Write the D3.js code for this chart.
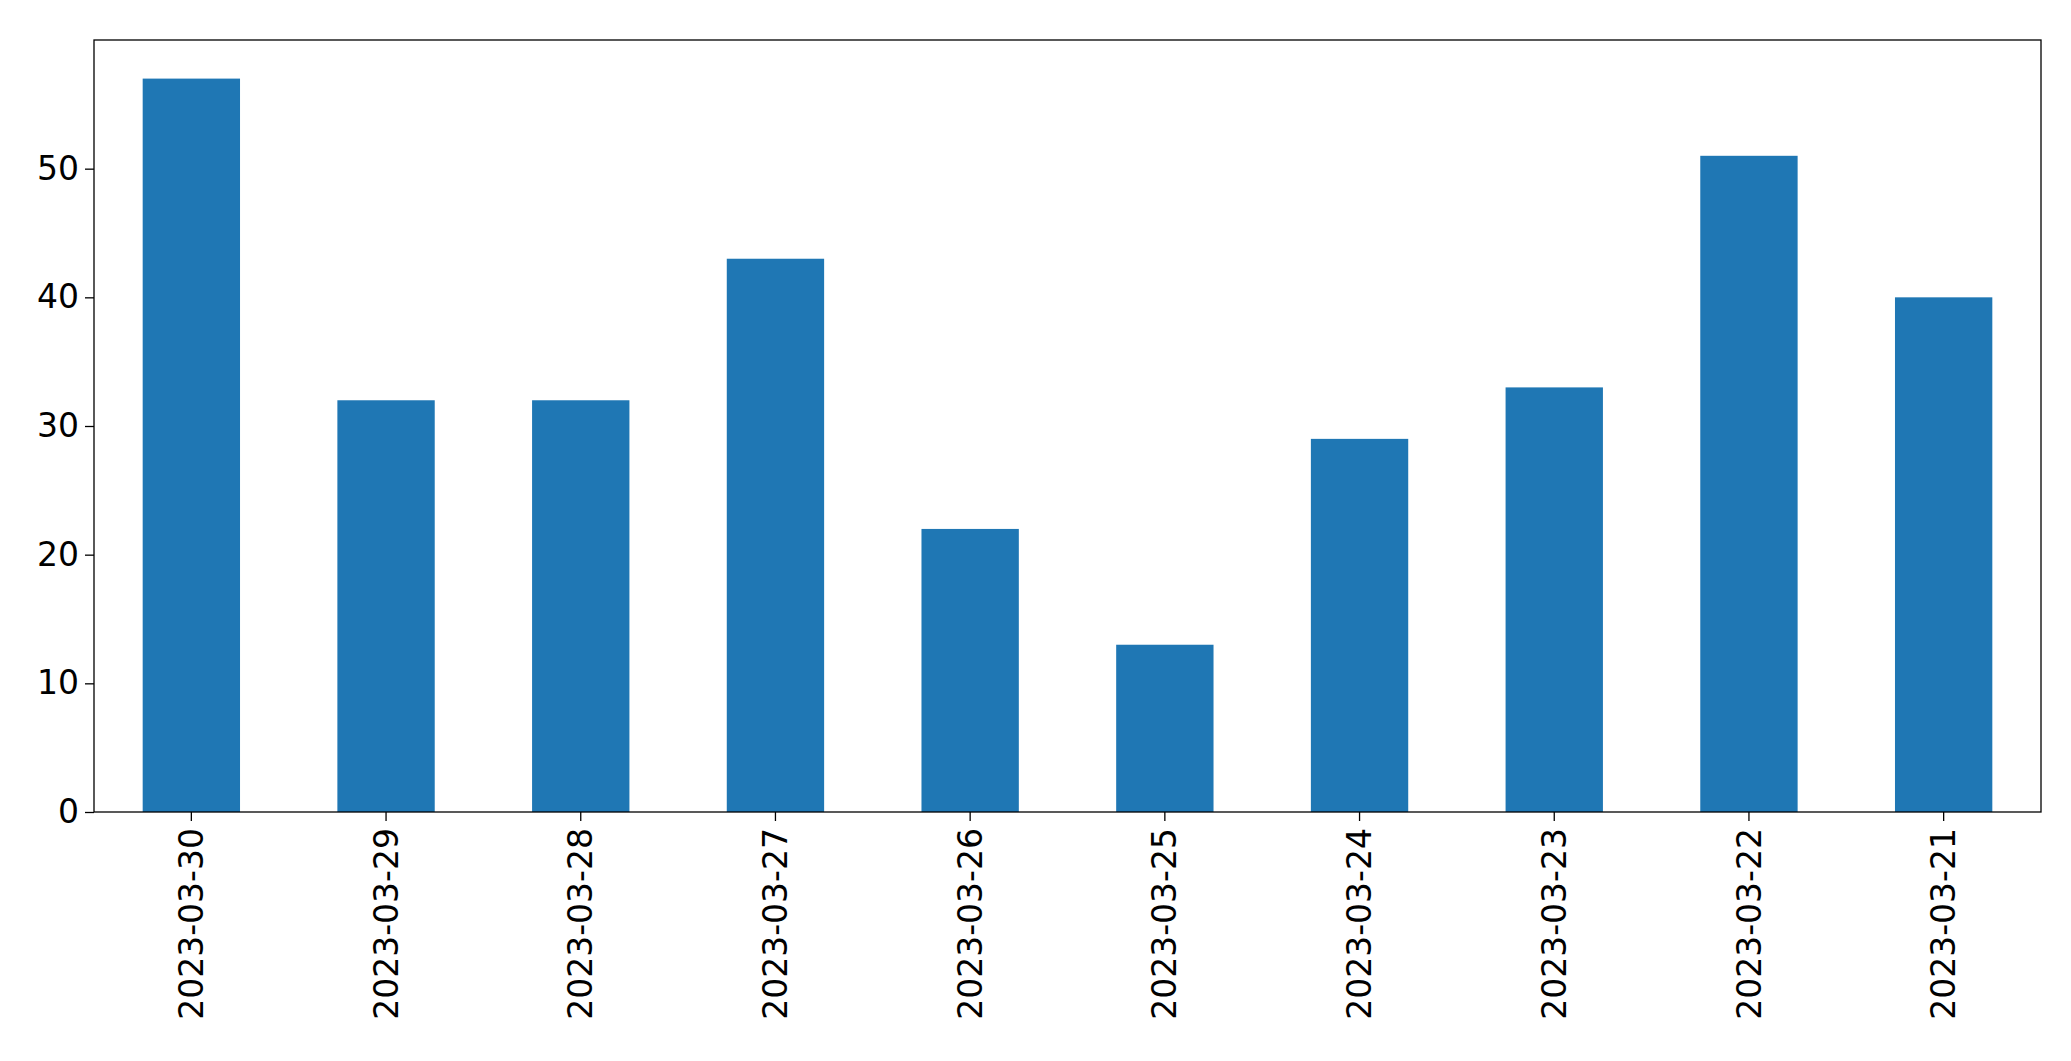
<!DOCTYPE html>
<html><head><meta charset="utf-8">
<script src="https://cdn.jsdelivr.net/npm/d3@7"></script>
<style>body{margin:0;background:#fff}text{font-family:"DejaVu Sans",sans-serif}</style>
</head><body><svg id="chart" width="2071" height="1061"></svg>
<script>
var dates = ["2023-03-30","2023-03-29","2023-03-28","2023-03-27","2023-03-26","2023-03-25","2023-03-24","2023-03-23","2023-03-22","2023-03-21"];
var counts = [57, 32, 32, 43, 22, 13, 29, 33, 51, 40];
var yTicks = [0, 10, 20, 30, 40, 50];

var svg = d3.select("#chart");
var plotLeft = 94, plotRight = 2041, plotTop = 40, plotBottom = 812;

var x = d3.scaleBand().domain(dates).range([plotLeft, plotRight]).paddingInner(0.5).paddingOuter(0.25);
var y = d3.scaleLinear().domain([0, 60]).range([plotBottom, plotTop]);

// bars
svg.selectAll("rect.bar").data(dates).enter().append("rect")
  .attr("class", "bar")
  .attr("x", function(d) { return x(d); })
  .attr("width", x.bandwidth())
  .attr("y", function(d, i) { return y(counts[i]); })
  .attr("height", function(d, i) { return plotBottom - y(counts[i]); })
  .attr("fill", "#1f77b4");

// axes
var yAxis = svg.append("g").attr("transform", "translate(" + plotLeft + ",0)")
  .call(d3.axisLeft(y).tickValues(yTicks).tickSize(9).tickPadding(6));
var xAxis = svg.append("g").attr("transform", "translate(0," + plotBottom + ")")
  .call(d3.axisBottom(x).tickSize(9).tickPadding(5));
[yAxis, xAxis].forEach(function(g) {
  g.select(".domain").remove();
  g.selectAll("line").attr("stroke", "#000").attr("stroke-width", 1.3);
  g.selectAll("text").attr("font-size", 33).attr("fill", "#000").attr("font-family", "DejaVu Sans");
});
xAxis.selectAll("text")
  .attr("transform", "rotate(-90)")
  .attr("text-anchor", "end")
  .attr("dy", "0.35em")
  .attr("x", -16).attr("y", 0);

// frame
svg.append("rect").attr("x", plotLeft).attr("y", plotTop)
  .attr("width", plotRight - plotLeft).attr("height", plotBottom - plotTop)
  .attr("fill", "none").attr("stroke", "#000").attr("stroke-width", 1.3);
</script></body></html>
